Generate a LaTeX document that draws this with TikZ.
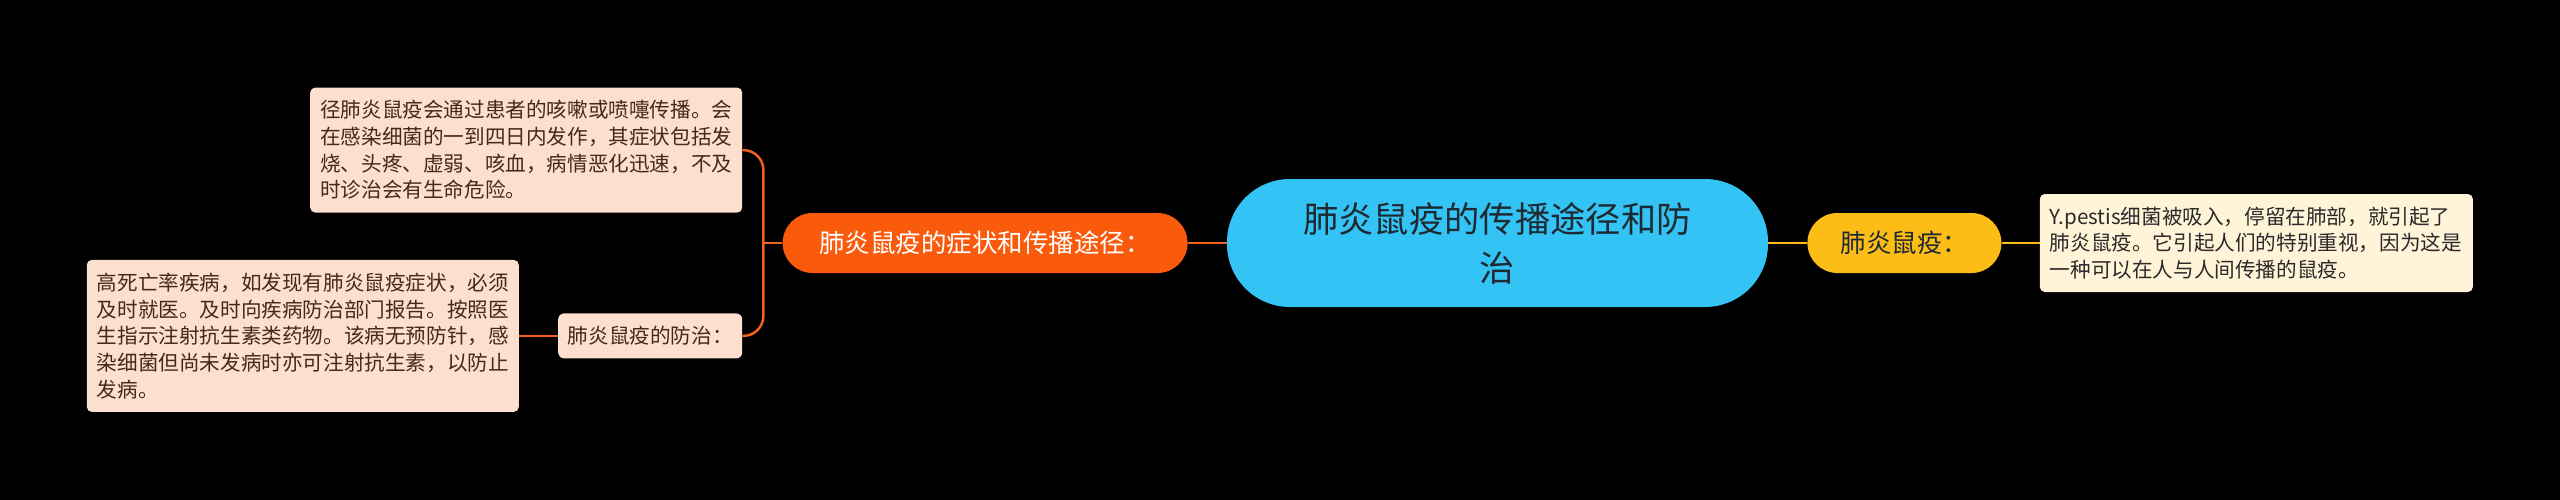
\documentclass[tikz,border=0pt]{standalone}
\usepackage{fontspec}
\setmainfont{Noto Sans CJK SC}
\usepackage{tikz}
\usetikzlibrary{positioning}
\usepackage{xcolor}
\definecolor{mmcyan}{RGB}{51,196,245}
\definecolor{mmorange}{RGB}{250,90,12}
\definecolor{mmorangeline}{RGB}{238,98,30}
\definecolor{mmyellow}{RGB}{252,189,22}
\definecolor{mmpeach}{RGB}{252,223,207}
\definecolor{mmcream}{RGB}{255,243,216}
\definecolor{mmbrown}{RGB}{72,40,24}
\definecolor{mmdark}{RGB}{30,42,50}
\tikzstyle{topic} = [rectangle, rounded corners=63pt, minimum width=541pt, minimum height=128pt, align=center, fill=mmcyan, text=mmdark, font=\fontsize{35.3}{49}\selectfont]
\tikzstyle{branch} = [rectangle, rounded corners=30pt, minimum height=60pt, text centered, font=\fontsize{25.5}{30}\selectfont]
\tikzstyle{leaf} = [rectangle, rounded corners=5pt, align=left, text width=412pt, inner xsep=10pt, inner ysep=4pt, fill=mmpeach, text=mmbrown, font=\fontsize{20.6}{26.7}\selectfont]
\tikzstyle{orangeline} = [line width=2.5pt, color=mmorangeline]
\tikzstyle{yellowline} = [line width=2.5pt, color=mmyellow]

\begin{document}
\begin{tikzpicture}
\fill[black] (0,0) rectangle (2560pt,-500pt);
% Central topic
\node (central) [topic] at (1497.5pt,-243pt) {肺炎鼠疫的传播途径和防\\治};

% Left side
\node (symptoms) [branch, left=39pt of central, minimum width=405pt, fill=mmorange, text=white] {肺炎鼠疫的症状和传播途径：};
\node (spread) [leaf, above left=0pt and 40pt of symptoms, minimum height=125pt] {径肺炎鼠疫会通过患者的咳嗽或喷嚏传播。会\\在感染细菌的一到四日内发作，其症状包括发\\烧、头疼、虚弱、咳血，病情恶化迅速，不及\\时诊治会有生命危险。};
\node (prevent) [leaf, below left=40pt and 40pt of symptoms, text width=, minimum width=184pt, minimum height=45pt, inner xsep=9pt, rounded corners=6pt, align=center] {肺炎鼠疫的防治：};
\node (treat) [leaf, left=39pt of prevent, minimum height=152pt] {高死亡率疾病，如发现有肺炎鼠疫症状，必须\\及时就医。及时向疾病防治部门报告。按照医\\生指示注射抗生素类药物。该病无预防针，感\\染细菌但尚未发病时亦可注射抗生素，以防止\\发病。};

% Right side
\node (plague) [branch, right=39pt of central, minimum width=194pt, fill=mmyellow, text=mmdark] {肺炎鼠疫：};
\node (pestis) [leaf, right=38pt of plague, text width=413pt, minimum height=98pt, fill=mmcream, text=mmdark!70!mmbrown] {Y.pestis细菌被吸入，停留在肺部，就引起了\\肺炎鼠疫。它引起人们的特别重视，因为这是\\一种可以在人与人间传播的鼠疫。};

% Connectors
\coordinate (fork) at ([xshift=-19pt]symptoms.west);
\draw[orangeline] (central.west) -- (symptoms.east);
\draw[orangeline] (symptoms.west) -- (fork);
\draw[orangeline, rounded corners=20pt] (fork) |- (spread.east);
\draw[orangeline, rounded corners=20pt] (fork) |- (prevent.east);
\draw[orangeline] (prevent.west) -- (treat.east);
\draw[yellowline] (central.east) -- (plague.west);
\draw[yellowline] (plague.east) -- (pestis.west);
\end{tikzpicture}
\end{document}
